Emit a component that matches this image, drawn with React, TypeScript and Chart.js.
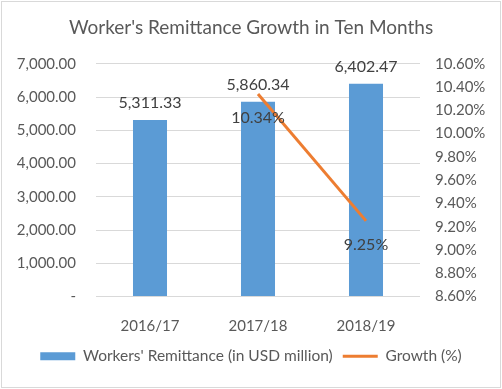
import React, { useEffect, useRef } from "react";
import { Chart, registerables } from "chart.js";

Chart.register(...registerables);

const categories = ["2016/17", "2017/18", "2018/19"];
const remittance = [5311.33, 5860.34, 6402.47];
const growth: (number | null)[] = [null, 10.34, 9.25];
const remittanceLabels = ["5,311.33", "5,860.34", "6,402.47"];
const growthLabels = ["", "10.34%", "9.25%"];

const FONT = "Lato, 'Open Sans', sans-serif";

const borderPlugin = {
  id: "frameBorder",
  beforeDraw(chart: any) {
    const ctx = chart.ctx;
    ctx.save();
    ctx.fillStyle = "#ffffff";
    ctx.fillRect(0, 0, chart.width, chart.height);
    ctx.strokeStyle = "#d9d9d9";
    ctx.lineWidth = 1;
    ctx.strokeRect(1.5, 1.5, chart.width - 3, chart.height - 3);
    ctx.restore();
  },
};

const labelPlugin = {
  id: "valueLabels",
  afterDatasetsDraw(chart: any) {
    const ctx = chart.ctx;
    ctx.save();
    ctx.font = `16px ${FONT}`;
    ctx.fillStyle = "#404040";
    ctx.textAlign = "center";
    ctx.textBaseline = "middle";
    const barMeta = chart.getDatasetMeta(0);
    barMeta.data.forEach((el: any, i: number) => {
      ctx.fillText(remittanceLabels[i], el.x, el.y - 17);
    });
    const lineMeta = chart.getDatasetMeta(1);
    lineMeta.data.forEach((el: any, i: number) => {
      if (growth[i] === null) return;
      ctx.fillText(growthLabels[i], el.x, el.y + 24);
    });
    ctx.restore();
  },
};

export default function App() {
  const ref = useRef<HTMLCanvasElement>(null);
  useEffect(() => {
    document.body.style.margin = "0";
    const chart = new Chart(ref.current!, {
      type: "bar",
      data: {
        labels: categories,
        datasets: [
          {
            type: "bar",
            label: "Workers' Remittance (in USD million)",
            data: remittance,
            backgroundColor: "#5B9BD5",
            borderWidth: 0,
            barPercentage: 0.63,
            categoryPercentage: 0.5,
            yAxisID: "y",
            order: 2,
          },
          {
            type: "line",
            label: "Growth (%)",
            data: growth,
            borderColor: "#ED7D31",
            backgroundColor: "#ED7D31",
            borderWidth: 3,
            pointRadius: 0,
            yAxisID: "y1",
            order: 1,
          } as any,
        ],
      },
      options: {
        animation: false,
        responsive: false,
        devicePixelRatio: 1,
        layout: { padding: { left: 0, right: 0, top: 0, bottom: 15 } },
        plugins: {
          title: {
            display: true,
            text: "Worker's Remittance Growth in Ten Months",
            color: "#595959",
            font: { family: FONT, size: 19, weight: "normal" },
            padding: { top: 16, bottom: 25 },
          },
          legend: {
            position: "bottom",
            labels: {
              color: "#595959",
              font: { family: FONT, size: 15.5 },
              usePointStyle: true,
              pointStyleWidth: 35,
              boxHeight: 8,
              padding: 10,
              sort: (a: any, b: any) => a.datasetIndex - b.datasetIndex,
              generateLabels(chart: any) {
                const items = Chart.defaults.plugins.legend.labels.generateLabels(chart);
                items.forEach((it: any) => {
                  if (it.datasetIndex === 0) {
                    it.pointStyle = "rect";
                    it.lineWidth = 0;
                    it.fillStyle = "#5B9BD5";
                    it.strokeStyle = "#5B9BD5";
                  } else {
                    it.pointStyle = "line";
                    it.lineWidth = 3;
                    it.fillStyle = "#ED7D31";
                    it.strokeStyle = "#ED7D31";
                  }
                });
                return items;
              },
            },
          },
          tooltip: { enabled: false },
        },
        scales: {
          x: {
            grid: { display: false },
            border: { display: false },
            ticks: { color: "#595959", font: { family: FONT, size: 15 }, padding: 13 },
            afterFit(scale: any) {
              scale.height = 42;
            },
          },
          y: {
            position: "left",
            min: 0,
            max: 7000,
            ticks: {
              stepSize: 1000,
              color: "#595959",
              font: { family: FONT, size: 15 },
              padding: 20,
              callback: (v: any) =>
                Number(v) === 0
                  ? "-"
                  : Number(v).toLocaleString("en-US", { minimumFractionDigits: 2, maximumFractionDigits: 2 }),
            },
            grid: { color: "#d9d9d9", drawTicks: false },
            border: { display: false },
            afterFit(scale: any) {
              scale.width = 96;
            },
          },
          y1: {
            position: "right",
            min: 8.6,
            max: 10.6,
            ticks: {
              stepSize: 0.2,
              color: "#595959",
              font: { family: FONT, size: 15 },
              padding: 15,
              callback: (v: any) => Number(v).toFixed(2) + "%",
            },
            grid: { display: false, drawTicks: false },
            border: { display: false },
            afterFit(scale: any) {
              scale.width = 82;
            },
          },
        },
      },
      plugins: [borderPlugin, labelPlugin],
    });
    return () => chart.destroy();
  }, []);
  return <canvas ref={ref} width={502} height={389} style={{ display: "block" }} />;
}
